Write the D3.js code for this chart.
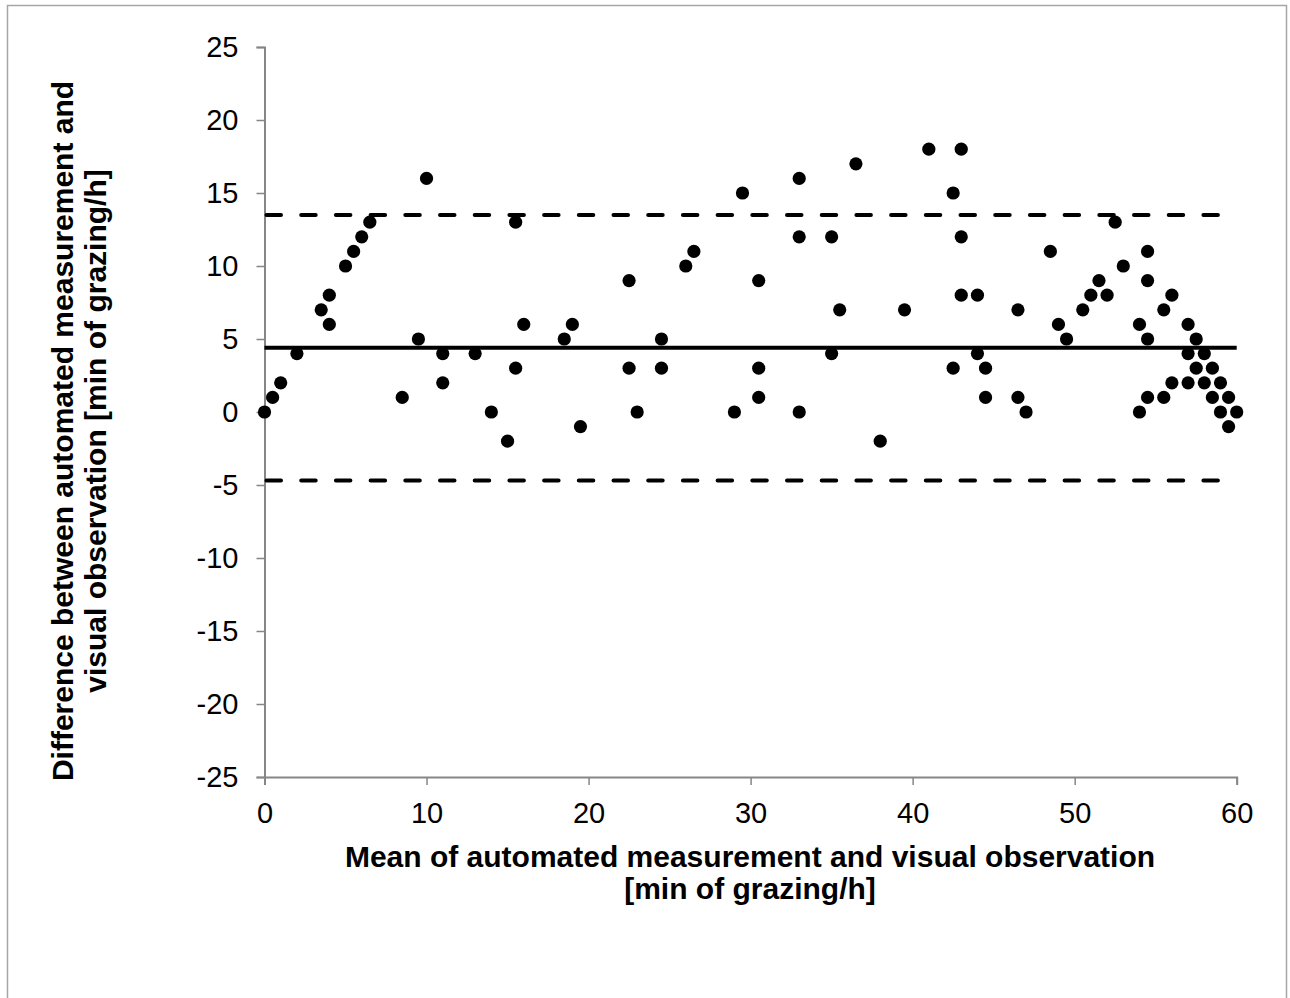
<!DOCTYPE html>
<html>
<head>
<meta charset="utf-8">
<script src="https://cdn.jsdelivr.net/npm/d3@7"></script>
<style>
  html, body { margin: 0; padding: 0; background: #fff; }
  svg { display: block; }
  text { font-family: "Liberation Sans", Arial, sans-serif; fill: #000; }
</style>
</head>
<body>
<svg id="chart" width="1290" height="998"></svg>
<script>
// Data (x = mean, y = difference)
const meanValues = [0, 0.5, 1, 2, 3.5, 4, 4, 5, 5.5, 6, 6.5, 8.5, 9.5, 10, 11, 11, 13, 14, 15, 15.5, 15.5, 16,
  18.5, 19, 19.5, 22.5, 22.5, 23, 24.5, 24.5, 26, 26.5, 29, 29.5, 30.5, 30.5, 30.5, 33, 33, 33, 35, 35, 35.5,
  36.5, 38, 39.5, 41, 42.5, 42.5, 43, 43, 43, 44, 44, 44.5, 44.5, 46.5, 46.5, 47, 48.5, 49, 49.5, 50.5, 51,
  51.5, 52, 52.5, 53, 54, 54, 54.5, 54.5, 54.5, 54.5, 55.5, 55.5, 56, 56, 57, 57, 57, 57.5, 57.5, 58, 58,
  58.5, 58.5, 59, 59, 59.5, 59.5, 60];
const diffValues = [0, 1, 2, 4, 7, 8, 6, 10, 11, 12, 13, 1, 5, 16, 4, 2, 4, 0, -2, 13, 3, 6,
  5, 6, -1, 9, 3, 0, 5, 3, 10, 11, 0, 15, 9, 3, 1, 16, 12, 0, 12, 4, 7,
  17, -2, 7, 18, 15, 3, 18, 12, 8, 8, 4, 3, 1, 7, 1, 0, 11, 6, 5, 7, 8,
  9, 8, 13, 10, 6, 0, 11, 9, 5, 1, 7, 1, 8, 2, 6, 4, 2, 5, 3, 4, 2,
  3, 1, 2, 0, 1, -1, 0];
const meanDifference = 4.4;
const upperLimit = 13.5;
const lowerLimit = -4.7;
const xTicks = [0, 10, 20, 30, 40, 50, 60];
const yTicks = [-25, -20, -15, -10, -5, 0, 5, 10, 15, 20, 25];
const xTitle = ["Mean of automated measurement and visual observation", "[min of grazing/h]"];
const yTitle = ["Difference between automated measurement and", "visual observation [min of grazing/h]"];

const svg = d3.select("#chart");

// outer frame
svg.append("rect")
  .attr("x", 7.5).attr("y", 5.5).attr("width", 1279).attr("height", 1000)
  .attr("fill", "none").attr("stroke", "#a6a6a6").attr("stroke-width", 1.5);

const x = d3.scaleLinear().domain([0, 60]).range([264.5, 1236.7]);
const y = d3.scaleLinear().domain([-25, 25]).range([777, 47]);

const axisColor = "#868686";
const tickFont = 29;

// Y axis
const yAxis = svg.append("g").attr("transform", `translate(${x(0)},0)`)
  .call(d3.axisLeft(y).tickValues(yTicks).tickSize(8).tickPadding(18).tickFormat(d => String(d)));
// X axis
const xAxis = svg.append("g").attr("transform", `translate(0,${y(-25)})`)
  .call(d3.axisBottom(x).tickValues(xTicks).tickSize(8).tickPadding(17).tickFormat(d => String(d)));

[yAxis, xAxis].forEach(g => {
  g.select(".domain").attr("stroke", axisColor).attr("stroke-width", 2);
  g.selectAll(".tick line").attr("stroke", axisColor).attr("stroke-width", 1.5);
  g.selectAll(".tick text").attr("font-size", tickFont)
    .attr("font-family", '"Liberation Sans", Arial, sans-serif').attr("fill", "#000");
});

// Reference lines
svg.append("line")
  .attr("x1", x(0)).attr("x2", x(60))
  .attr("y1", y(meanDifference)).attr("y2", y(meanDifference))
  .attr("stroke", "#000").attr("stroke-width", 4);

[upperLimit, lowerLimit].forEach(v => {
  svg.append("line")
    .attr("x1", x(0) + 2).attr("x2", x(60))
    .attr("y1", y(v)).attr("y2", y(v))
    .attr("stroke", "#000").attr("stroke-width", 4)
    .attr("stroke-linecap", "round")
    .attr("stroke-dasharray", "14.5,20.2");
});

// Points
const pts = meanValues.map((m, i) => ({ m, d: diffValues[i] }));
svg.append("g").selectAll("circle").data(pts).join("circle")
  .attr("cx", p => x(p.m)).attr("cy", p => y(p.d)).attr("r", 6.6)
  .attr("fill", "#000");

// Axis titles
const titleFont = 30;
const xt = svg.append("text").attr("text-anchor", "middle")
  .attr("font-size", titleFont).attr("font-weight", "bold");
xt.append("tspan").attr("x", 750).attr("y", 867).text(xTitle[0]);
xt.append("tspan").attr("x", 750).attr("y", 899).text(xTitle[1]);

const yt = svg.append("text").attr("text-anchor", "middle")
  .attr("font-size", titleFont).attr("font-weight", "bold")
  .attr("transform", "rotate(-90)");
yt.append("tspan").attr("x", -431).attr("y", 73).text(yTitle[0]);
yt.append("tspan").attr("x", -431).attr("y", 106).text(yTitle[1]);
</script>
</body>
</html>
